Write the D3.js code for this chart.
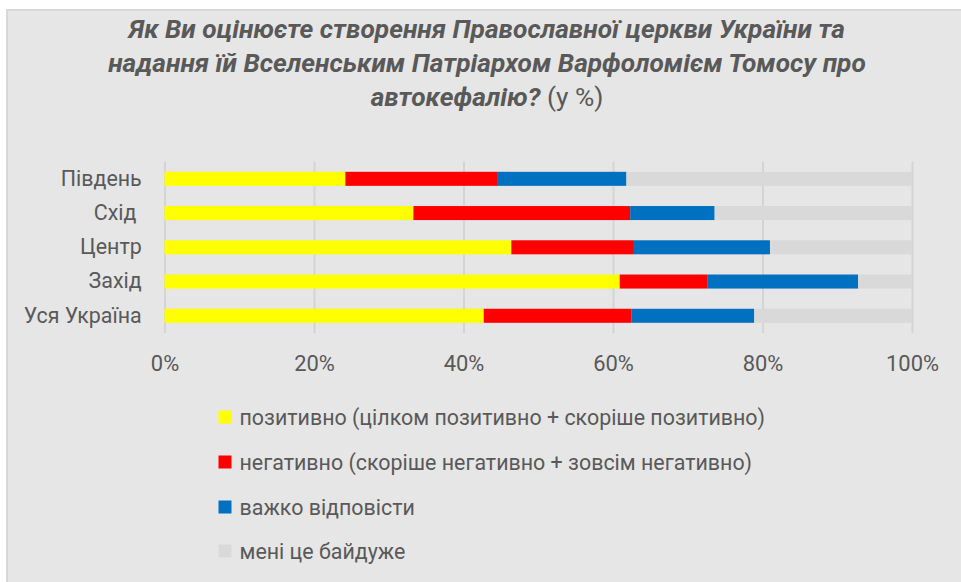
<!DOCTYPE html>
<html>
<head>
<meta charset="utf-8">
<script src="https://cdn.jsdelivr.net/npm/d3@7"></script>
<style>
  html, body { margin: 0; padding: 0; background: #ffffff; }
  svg { display: block; }
  text { white-space: pre; }
</style>
</head>
<body>
<svg id="chart" width="961" height="582"></svg>
<script>
// ---- data ----
const titleLines = [
  "Як Ви оцінюєте створення Православної церкви України та",
  "надання їй Вселенським Патріархом Варфоломієм Томосу про",
  "автокефалію?"
];
const titleSuffix = " (у %)";
const categories = ["Південь", "Схід ", "Центр", "Захід", "Уся Україна"];
const seriesNames = [
  "позитивно (цілком позитивно + скоріше позитивно)",
  "негативно (скоріше негативно + зовсім негативно)",
  "важко відповісти",
  "мені це байдуже"
];
const positive    = [24.2, 33.3, 46.4, 60.9, 42.7];
const negative    = [20.4, 29.0, 16.4, 11.7, 19.8];
const hardToSay   = [17.2, 11.3, 18.2, 20.2, 16.4];
const indifferent = [38.2, 26.4, 19.0, 7.2, 21.1];
const tickValues  = [0, 20, 40, 60, 80, 100];
const tickLabels  = ["0%", "20%", "40%", "60%", "80%", "100%"];

// ---- styles ----
const colors = ["#FFFF00", "#FF0000", "#0070C0", "#D9D9D9"];
const textColor = "#595959";
const fontFam = "Roboto, 'Open Sans', 'Noto Sans', sans-serif";

const svg = d3.select("#chart");

// chart background
svg.append("rect")
  .attr("x", 7).attr("y", 10).attr("width", 960).attr("height", 580)
  .attr("fill", "#e6e6e6").attr("stroke", "#d8d8d8").attr("stroke-width", 2);

function fitFont(sel, targetWidth, base) {
  sel.attr("font-size", base);
  const w = sel.node().getComputedTextLength();
  const size = base * targetWidth / w;
  sel.attr("font-size", size);
  return size;
}

// ---- title ----
const titleG = svg.append("g")
  .attr("font-family", fontFam)
  .attr("fill", textColor)
  .attr("text-anchor", "middle");
const titleBaselines = [38, 72, 106];
const tl = titleG.selectAll("text.tl").data(titleLines).join("text")
  .attr("class", "tl")
  .attr("x", 487)
  .attr("y", (d, i) => titleBaselines[i])
  .attr("font-weight", "bold")
  .attr("font-style", "italic");
tl.append("tspan").text(d => d);
// fit size on first line
const t0 = d3.select(tl.nodes()[0]);
const tSize = fitFont(t0, 716, 22);
tl.attr("font-size", tSize);
d3.select(tl.nodes()[2]).append("tspan")
  .attr("font-weight", "normal").attr("font-style", "normal")
  .text(titleSuffix);

// ---- scales ----
const x = d3.scaleLinear().domain([0, 100]).range([164.5, 912]);
const y = d3.scaleBand().domain(categories).range([161.7, 332.9])
  .paddingInner(0.59).paddingOuter(0.295);

// gridlines
const grid = svg.append("g")
  .attr("transform", `translate(0,${332.9})`)
  .call(d3.axisBottom(x).tickValues(tickValues).tickSize(-(332.9 - 161.7)).tickFormat(""));
grid.select(".domain").remove();
grid.selectAll(".tick line").attr("stroke", "#d4d4d4").attr("stroke-width", 2);

// stacked bars
const seriesVals = [positive, negative, hardToSay, indifferent];
const rows = categories.map((c, i) => {
  const o = { cat: c };
  seriesNames.forEach((s, k) => o[s] = seriesVals[k][i]);
  return o;
});
const stack = d3.stack().keys(seriesNames)(rows);
svg.append("g").selectAll("g").data(stack).join("g")
  .attr("fill", (d, i) => colors[i])
  .selectAll("rect").data(d => d).join("rect")
  .attr("x", d => x(d[0]))
  .attr("width", d => x(Math.min(d[1], 100)) - x(d[0]))
  .attr("y", d => y(d.data.cat))
  .attr("height", y.bandwidth());

// x axis labels
const xAxis = svg.append("g")
  .attr("transform", `translate(0,${332.9})`)
  .call(d3.axisBottom(x).tickValues(tickValues).tickSize(0).tickPadding(38)
    .tickFormat((d, i) => tickLabels[i]));
xAxis.select(".domain").remove();
xAxis.selectAll("text").attr("fill", textColor).attr("font-family", fontFam);
const lastTick = d3.select(xAxis.selectAll("text").nodes()[5]);
const tickSize = fitFont(lastTick, 53, 20);
xAxis.selectAll("text").attr("font-size", tickSize).attr("dy", null);

// y axis labels
const yAxis = svg.append("g")
  .attr("transform", `translate(141.7,0)`)
  .call(d3.axisLeft(y).tickSize(0).tickPadding(0));
yAxis.select(".domain").remove();
yAxis.selectAll("text").attr("fill", textColor).attr("font-family", fontFam);
const uaLabel = d3.select(yAxis.selectAll("text").nodes()[4]);
const catSize = fitFont(uaLabel, 118, 20);
yAxis.selectAll("text").attr("font-size", catSize);

// legend
const legendY = [417, 462, 507, 551];
const lg = svg.append("g").attr("font-family", fontFam);
const items = lg.selectAll("g").data(seriesNames).join("g")
  .attr("transform", (d, i) => `translate(218.5,${legendY[i]})`);
items.append("rect")
  .attr("x", 0).attr("y", -6.5).attr("width", 13).attr("height", 13)
  .attr("fill", (d, i) => colors[i]);
const ltexts = items.append("text")
  .attr("x", 21).attr("dy", "0.35em")
  .attr("fill", textColor)
  .text(d => d);
const lSize = fitFont(d3.select(ltexts.nodes()[0]), 526, 20);
ltexts.attr("font-size", lSize);
</script>
</body>
</html>
